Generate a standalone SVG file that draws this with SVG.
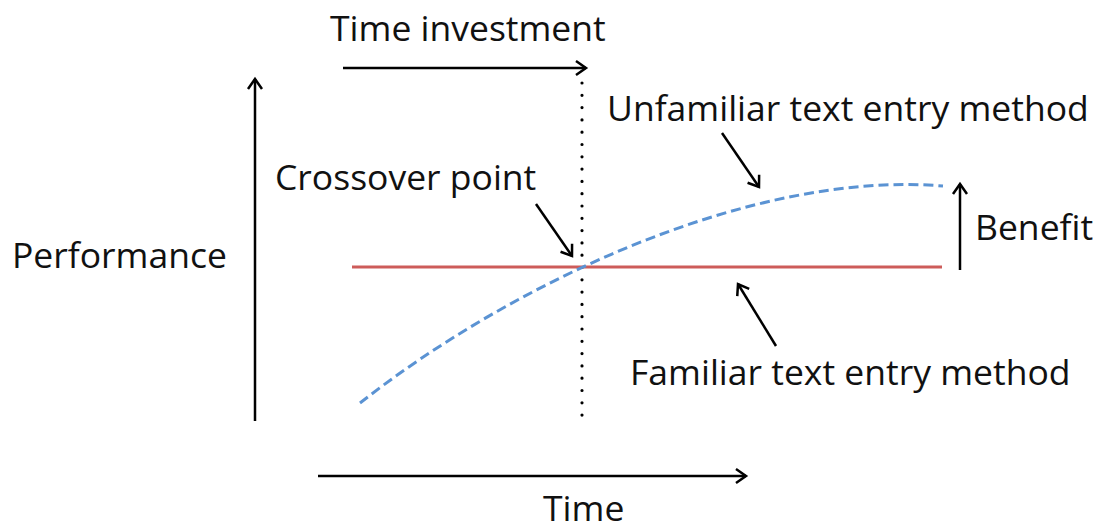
<svg xmlns="http://www.w3.org/2000/svg" width="1098" height="531" viewBox="0 0 1098 531">
<style>
text{font-family:"Open Sans","Liberation Sans",sans-serif;font-size:35.5px;fill:#111}
.ar{stroke:#000;stroke-width:2.5;fill:none;marker-end:url(#arr)}
</style>
<defs>
<marker id="arr" markerUnits="userSpaceOnUse" markerWidth="30" markerHeight="30" refX="0" refY="0" orient="auto" overflow="visible">
<path d="M-10,-7 L0,0 L-10,7" fill="none" stroke="#000" stroke-width="2.5" stroke-linejoin="miter"/>
</marker>
</defs>
<rect width="1098" height="531" fill="#fff"/>
<g id="connectors">
<line id="time-investment-arrow" class="ar" x1="343" y1="68" x2="586" y2="68"/>
<line id="performance-axis" class="ar" x1="255" y1="421" x2="255" y2="79"/>
<line id="time-axis" class="ar" x1="318" y1="476" x2="746" y2="476"/>
<line id="crossover-line" x1="582" y1="83" x2="582" y2="422" stroke="#000" stroke-width="3.2" stroke-linecap="round" stroke-dasharray="0 12.3"/>
<line id="familiar-line" x1="352" y1="267" x2="942" y2="267" stroke="#cd5c5a" stroke-width="3"/>
<path id="unfamiliar-curve" d="M360,403 C510,285 750,170 943,186" fill="none" stroke="#5b93d3" stroke-width="3" stroke-dasharray="10 5"/>
<line id="benefit-arrow" class="ar" x1="960" y1="270" x2="960" y2="184"/>
<line id="unfamiliar-pointer" class="ar" x1="722" y1="133" x2="759" y2="187"/>
<line id="crossover-pointer" class="ar" x1="536" y1="204" x2="572" y2="256"/>
<line id="familiar-pointer" class="ar" x1="776" y1="346" x2="738" y2="284"/>
</g>
<g id="label-time-investment"><text x="330" y="41">Time investment</text></g>
<g id="label-unfamiliar"><text x="607" y="121">Unfamiliar text entry method</text></g>
<g id="label-crossover"><text x="275" y="190">Crossover point</text></g>
<g id="label-performance"><text x="12" y="268">Performance</text></g>
<g id="label-benefit"><text x="975" y="240">Benefit</text></g>
<g id="label-familiar"><text x="630" y="385">Familiar text entry method</text></g>
<g id="label-time"><text x="543" y="521">Time</text></g>
</svg>
